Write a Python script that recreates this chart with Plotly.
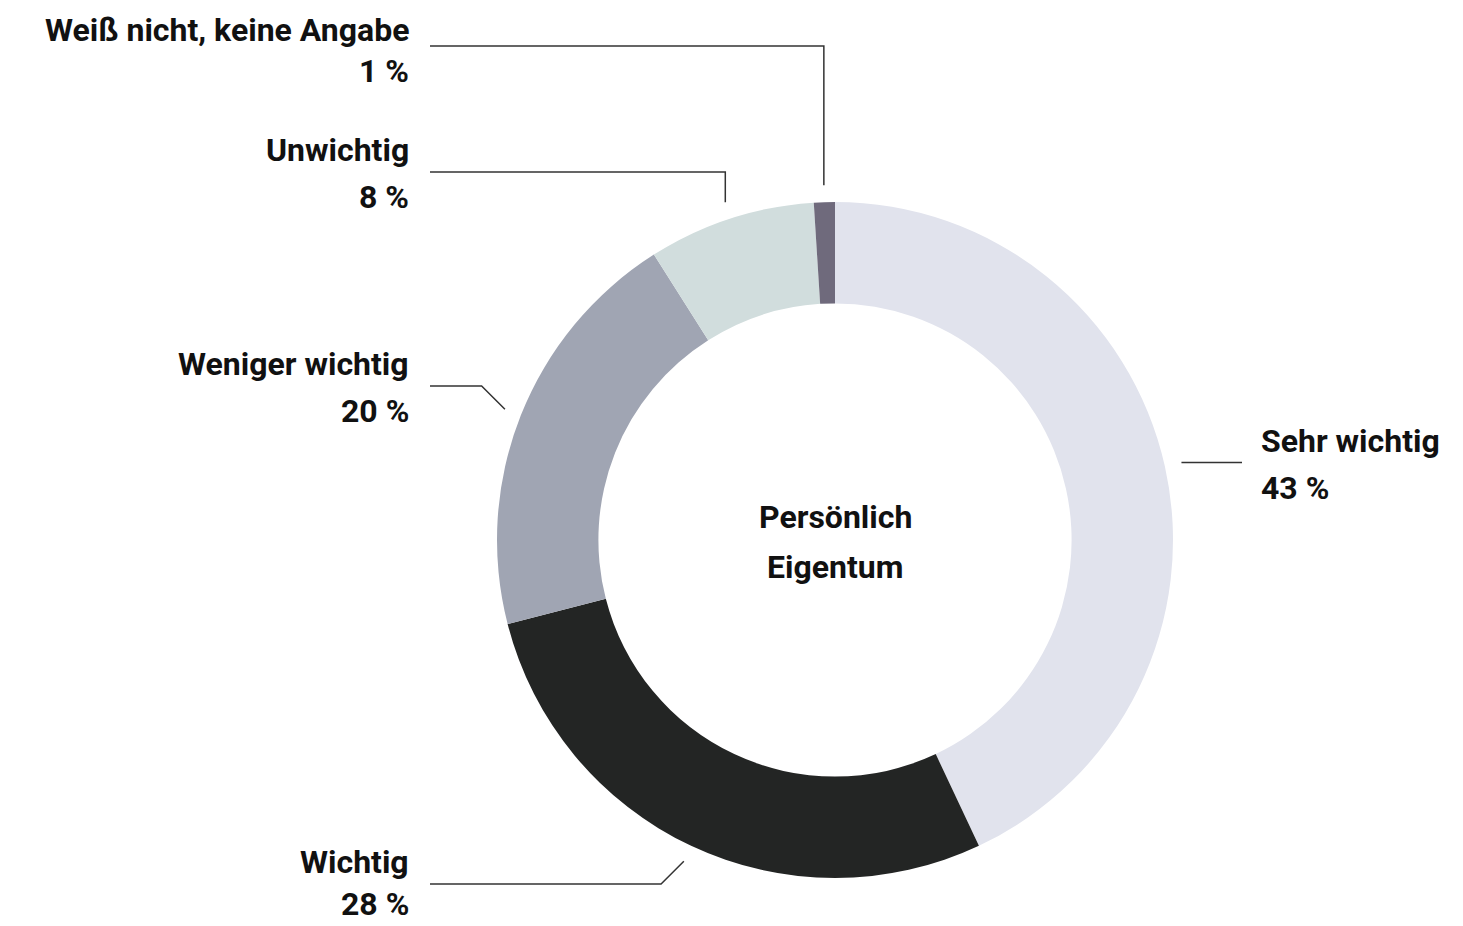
import math
import plotly.graph_objects as go

labels = ["Sehr wichtig", "Wichtig", "Weniger wichtig", "Unwichtig", "Weiß nicht, keine Angabe"]
values = [43, 28, 20, 8, 1]
colors = ["#e1e3ed", "#232524", "#a0a5b3", "#d1dddd", "#6f6a7c"]
center_text = ["Persönlich", "Eigentum"]

OFF = 8  # page body margin
W, H = 1463 - OFF, 926 - OFF
CX, CY, R = 835, 540, 338
HOLE = 0.70
FONT = "Roboto, Liberation Sans, sans-serif"
FS = 32

# label layout: elbow kind, horizontal line y, line end x
layout_spec = [
    dict(side="right", kind="h", ly=None, end_x=1242),
    dict(side="left", kind="diag", ly=884, end_x=430),
    dict(side="left", kind="diag", ly=386, end_x=430),
    dict(side="left", kind="vert", ly=172, end_x=430),
    dict(side="left", kind="vert", ly=46, end_x=430),
]

def px(x):
    return (x - OFF) / W

def py(y):
    return 1 - (y - OFF) / H

HALF = 0.65 * FS + 1

def clamp_y(y):
    return min(max(y, OFF + HALF), OFF + H - HALF)

fig = go.Figure(go.Pie(
    labels=labels, values=values, sort=False, direction="clockwise", rotation=0,
    hole=HOLE, marker=dict(colors=colors, line=dict(width=0)),
    textinfo="none", hoverinfo="label+percent", showlegend=False,
    domain=dict(x=[px(CX - R), px(CX + R)], y=[py(CY + R), py(CY - R)]),
))

shapes = []
annotations = []
total = sum(values)
cum = 0
for lab, v, spec in zip(labels, values, layout_spec):
    mid = (cum + v / 2) / total * 2 * math.pi
    cum += v
    r0 = R + 17
    sx = CX + r0 * math.sin(mid)
    sy = CY - r0 * math.cos(mid)
    pts = [(sx, sy)]
    if spec["kind"] == "h":
        ly = sy
        pts.append((spec["end_x"], ly))
    elif spec["kind"] == "vert":
        ly = spec["ly"]
        pts.append((sx, ly))
        pts.append((spec["end_x"], ly))
    else:
        ly = spec["ly"]
        d = abs(ly - sy)
        ex = sx - d
        pts.append((ex, ly))
        pts.append((spec["end_x"], ly))
    path = "M " + " L ".join(f"{px(x)},{py(y)}" for x, y in pts)
    shapes.append(dict(type="path", path=path, xref="paper", yref="paper",
                       line=dict(color="#333333", width=1.5)))
    if spec["side"] == "right":
        tx = spec["end_x"] + 17
        anchor = "left"
    else:
        tx = spec["end_x"] - 19
        anchor = "right"
    for txt, dy in ((lab, -22), (f"{v} %", 25)):
        annotations.append(dict(
            x=px(tx), y=py(clamp_y(ly + dy)), xref="paper", yref="paper",
            text=f"<b>{txt}</b>", showarrow=False, xanchor=anchor, yanchor="middle",
            font=dict(family=FONT, size=FS, color="#111111"),
        ))

for txt, dy in zip(center_text, (-23, 27)):
    annotations.append(dict(
        x=px(CX), y=py(CY + dy), xref="paper", yref="paper",
        text=f"<b>{txt}</b>", showarrow=False, xanchor="center", yanchor="middle",
        font=dict(family=FONT, size=FS, color="#111111"),
    ))

fig.update_layout(
    width=W, height=H, margin=dict(l=0, r=0, t=0, b=0),
    paper_bgcolor="white", plot_bgcolor="white",
    shapes=shapes, annotations=annotations,
)
fig.write_html("out.html")
